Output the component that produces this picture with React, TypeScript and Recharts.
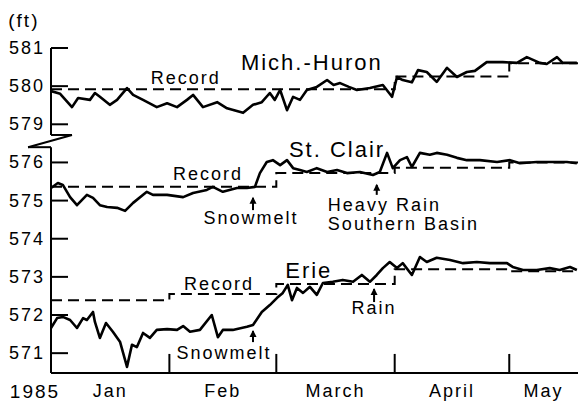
import React from "react";
import { LineChart, Line, XAxis, YAxis, ReferenceLine, ReferenceDot } from "recharts";

const FONT = "'Liberation Sans', Arial, Helvetica, sans-serif";
// Mich.-Huron is drawn 2 ft lower so it fits above the axis break
const BREAK = 2;
const Y_MIN = 570.48;
const Y_MAX = 579;

const months = ["Jan", "Feb", "March", "April", "May"];
const monthMid = [15.5, 45, 74.5, 105, 129];
const monthEnds = [31, 59, 90, 120];
const yTicks = [571, 572, 573, 574, 575, 576, 577, 578, 579];

// day of year 1985 (0 = Jan 1), level in ft
const mhDays = [0, 2.4, 5.5, 7.1, 10.2, 11.5, 12.8, 15.4, 17.3, 19.9, 21.5, 24.1, 27.7, 30.4, 33, 35.6, 37.2, 39.8, 43.5, 46.1, 50.3, 52.9, 55.2, 57.3, 58.6, 60, 61.8, 63.4, 65.2, 67, 69.6, 72.3, 74, 75.7, 78, 80.1, 83.5, 86.9, 89.3, 90.6, 92.1, 94.5, 96.1, 98.4, 101, 103.7, 106.3, 108.9, 111, 114.1, 118.3, 122, 124.6, 128, 129.8, 132.5, 134, 137.7];
const mhLevels = [579.87, 579.8, 579.45, 579.69, 579.64, 579.82, 579.72, 579.51, 579.64, 579.95, 579.77, 579.64, 579.45, 579.55, 579.45, 579.64, 579.77, 579.45, 579.58, 579.42, 579.3, 579.51, 579.58, 579.82, 579.64, 579.9, 579.37, 579.72, 579.64, 579.9, 579.98, 580.16, 580.03, 580.08, 579.98, 579.9, 579.95, 580.03, 579.72, 580.24, 580.16, 580.1, 580.42, 580.37, 580.11, 580.48, 580.24, 580.37, 580.4, 580.63, 580.63, 580.61, 580.76, 580.61, 580.58, 580.76, 580.61, 580.61];
const mhRecDays = [0, 90, 120, 138];
const mhRecLevels = [579.92, 580.25, 580.6, 580.6];

const scDays = [0, 1.8, 3.1, 5, 6.8, 9.4, 11, 12.8, 14.7, 17.3, 19.4, 21.5, 25.1, 26.7, 30.4, 34.6, 37.2, 40.8, 42.4, 45, 48.7, 51.3, 53.4, 54.7, 56.5, 58.1, 60, 61.8, 63.4, 65.2, 67, 69.6, 72.3, 74.9, 77.5, 80.9, 84.3, 86.1, 88, 89.5, 91.4, 93.2, 94.5, 96.6, 99.2, 101, 103.7, 106.3, 108.9, 112.3, 116.8, 120.2, 122.8, 127.2, 131.4, 135.1, 137.7];
const scLevels = [575.33, 575.46, 575.41, 575.09, 574.88, 575.15, 575.07, 574.88, 574.83, 574.81, 574.73, 574.94, 575.23, 575.15, 575.15, 575.09, 575.2, 575.28, 575.36, 575.23, 575.33, 575.33, 575.36, 575.72, 576.01, 576.06, 575.93, 576.06, 575.85, 575.8, 575.75, 575.85, 575.75, 575.8, 575.72, 575.75, 575.67, 575.75, 576.25, 575.85, 576.06, 576.14, 575.88, 576.25, 576.2, 576.25, 576.2, 576.12, 576.06, 576.06, 576.01, 576.06, 575.98, 576.01, 576.01, 576.01, 575.98];
const scRecDays = [0, 59, 90, 120, 138];
const scRecLevels = [575.36, 575.72, 575.86, 576.0, 576.0];

const erDays = [0, 1.6, 3.1, 5, 6.8, 8.4, 9.4, 11, 11.5, 12.8, 14.4, 16.2, 18.1, 19.9, 21.2, 22.5, 24.1, 25.9, 27.7, 30.4, 33, 34.6, 36.4, 39, 42.1, 43.7, 45, 47.6, 51.3, 52.9, 55.2, 57.3, 59.2, 60.7, 62, 63.1, 64.4, 66, 67.8, 69.6, 71.2, 73.8, 76.4, 79.1, 81.4, 83.5, 85.3, 86.9, 88.7, 90.6, 92.1, 94.5, 96.6, 98.4, 101, 104.5, 107.9, 111.5, 114.9, 119.4, 120.9, 123.6, 127.2, 130.6, 133.2, 135.9, 137.7];
const erLevels = [571.66, 571.92, 571.95, 571.87, 571.66, 571.92, 571.87, 572.08, 571.82, 571.4, 571.79, 571.56, 571.29, 570.64, 571.22, 571.16, 571.53, 571.4, 571.61, 571.63, 571.61, 571.71, 571.56, 571.61, 572.0, 571.42, 571.61, 571.61, 571.69, 571.74, 572.08, 572.26, 572.45, 572.58, 572.79, 572.39, 572.71, 572.58, 572.74, 572.53, 572.84, 572.87, 572.92, 572.87, 573.05, 572.87, 573.05, 573.23, 573.39, 573.23, 573.36, 573.05, 573.52, 573.39, 573.5, 573.44, 573.36, 573.39, 573.36, 573.36, 573.26, 573.18, 573.18, 573.23, 573.18, 573.26, 573.18];
const erRecDays = [0, 31, 59, 90, 120, 138];
const erRecLevels = [572.39, 572.55, 572.81, 573.2, 573.15, 573.15];

const rows = (days: number[], vals: number[], shift = 0) =>
  days.map((d, i) => ({ d, v: vals[i] - shift }));

const textShape = (text: string, anchor = "middle", size = 18) => (p: any) => (
  <text x={p.cx} y={p.cy} textAnchor={anchor} dominantBaseline="central"
    fontSize={size} fontFamily={FONT} letterSpacing={2} fill="#000">{text}</text>
);

const arrowHead = (p: any) => (
  <path d={`M${p.cx},${p.cy} l-3.5,7 l7,0 z`} fill="#000" />
);

const notes = [
  { t: "Mich.-Huron", x: 68.3, y: 578.63, size: 22, anchor: "middle" },
  { t: "Record", x: 35.3, y: 578.21, size: 18, anchor: "middle" },
  { t: "St. Clair", x: 74.9, y: 576.35, size: 22, anchor: "middle" },
  { t: "Record", x: 41.1, y: 575.7, size: 18, anchor: "middle" },
  { t: "Snowmelt", x: 52.4, y: 574.54, size: 18, anchor: "middle" },
  { t: "Heavy Rain", x: 72.5, y: 574.88, size: 18, anchor: "start" },
  { t: "Southern Basin", x: 72.5, y: 574.39, size: 18, anchor: "start" },
  { t: "Erie", x: 67.5, y: 573.18, size: 22, anchor: "middle" },
  { t: "Record", x: 44, y: 572.81, size: 18, anchor: "middle" },
  { t: "Rain", x: 84.6, y: 572.18, size: 18, anchor: "middle" },
  { t: "Snowmelt", x: 45.3, y: 571.0, size: 18, anchor: "middle" },
  { t: "(ft)", x: -7.1, y: 579.71, size: 19, anchor: "middle" },
  { t: "1985", x: -4.2, y: 570.0, size: 19, anchor: "middle" },
];

const arrows = [
  { x: 52.9, y0: 574.75, y1: 575.07 },
  { x: 85.3, y0: 575.15, y1: 575.41 },
  { x: 84.6, y0: 572.34, y1: 572.68 },
  { x: 52.9, y0: 571.29, y1: 571.58 },
];

const MonthTick = (p: any) => {
  const i = monthMid.indexOf(p.payload.value);
  return (
    <text x={p.x} y={p.y} textAnchor="middle" dominantBaseline="central"
      fontSize={18} fontFamily={FONT} letterSpacing={2} fill="#000">{months[i]}</text>
  );
};

const LevelTick = (p: any) => {
  const v = p.payload.value;
  return (
    <text x={p.x} y={p.y} textAnchor="end" dominantBaseline="central"
      fontSize={18} fontFamily={FONT} letterSpacing={2} fill="#000">{v >= 577 ? v + BREAK : v}</text>
  );
};

const axisSeg = (a: any, b: any, key: string) => (
  <ReferenceLine key={key} segment={[a, b]} stroke="#000" strokeWidth={2} ifOverflow="visible" />
);

export default function App() {
  return (
    <div style={{ position: "absolute", left: 0, top: 0, width: 578, height: 404, background: "#fff" }}>
      <LineChart width={578} height={404} margin={{ top: 48, right: 0, bottom: 0, left: 0 }}>
        <XAxis dataKey="d" type="number" domain={[0, 138]} ticks={monthMid} interval={0}
          tick={<MonthTick />} tickLine={false} tickSize={0} tickMargin={18} height={31}
          axisLine={{ stroke: "#000", strokeWidth: 2 }} allowDataOverflow />
        <YAxis type="number" domain={[Y_MIN, Y_MAX]} ticks={yTicks} interval={0} width={51}
          axisLine={false} tickLine={false} tickSize={0} tickMargin={6} tick={<LevelTick />} allowDataOverflow />

        {/* broken y axis */}
        {axisSeg({ x: 0, y: 576.72 }, { x: 0, y: Y_MAX }, "up")}
        {axisSeg({ x: 0, y: 576.72 }, { x: 5.5, y: 576.72 }, "z1")}
        {axisSeg({ x: 5.5, y: 576.72 }, { x: -6, y: 576.4 }, "z2")}
        {axisSeg({ x: -6, y: 576.4 }, { x: 0, y: 576.4 }, "z3")}
        {axisSeg({ x: 0, y: Y_MIN }, { x: 0, y: 576.4 }, "low")}
        {yTicks.map((t) => axisSeg({ x: 0, y: t }, { x: 4.45, y: t }, "yt" + t))}
        {monthEnds.map((m) => axisSeg({ x: m, y: Y_MIN }, { x: m, y: Y_MIN + 0.5 }, "mt" + m))}

        <Line data={rows(mhRecDays, mhRecLevels, BREAK)} dataKey="v" type="stepAfter" stroke="#000"
          strokeWidth={2} strokeDasharray="11 6" dot={false} isAnimationActive={false} />
        <Line data={rows(scRecDays, scRecLevels)} dataKey="v" type="stepAfter" stroke="#000"
          strokeWidth={2} strokeDasharray="11 6" dot={false} isAnimationActive={false} />
        <Line data={rows(erRecDays, erRecLevels)} dataKey="v" type="stepAfter" stroke="#000"
          strokeWidth={2} strokeDasharray="11 6" dot={false} isAnimationActive={false} />

        <Line data={rows(mhDays, mhLevels, BREAK)} dataKey="v" type="linear" stroke="#000"
          strokeWidth={2.6} strokeLinejoin="round" dot={false} isAnimationActive={false} />
        <Line data={rows(scDays, scLevels)} dataKey="v" type="linear" stroke="#000"
          strokeWidth={2.6} strokeLinejoin="round" dot={false} isAnimationActive={false} />
        <Line data={rows(erDays, erLevels)} dataKey="v" type="linear" stroke="#000"
          strokeWidth={2.6} strokeLinejoin="round" dot={false} isAnimationActive={false} />

        {arrows.map((a, i) => axisSeg({ x: a.x, y: a.y0 }, { x: a.x, y: a.y1 }, "ar" + i))}
        {arrows.map((a, i) => (
          <ReferenceDot key={"ah" + i} x={a.x} y={a.y1 + 0.03} r={0} ifOverflow="visible" shape={arrowHead} />
        ))}
        {notes.map((n, i) => (
          <ReferenceDot key={"n" + i} x={n.x} y={n.y} r={0} ifOverflow="visible"
            shape={textShape(n.t, n.anchor, n.size)} />
        ))}
      </LineChart>
    </div>
  );
}
